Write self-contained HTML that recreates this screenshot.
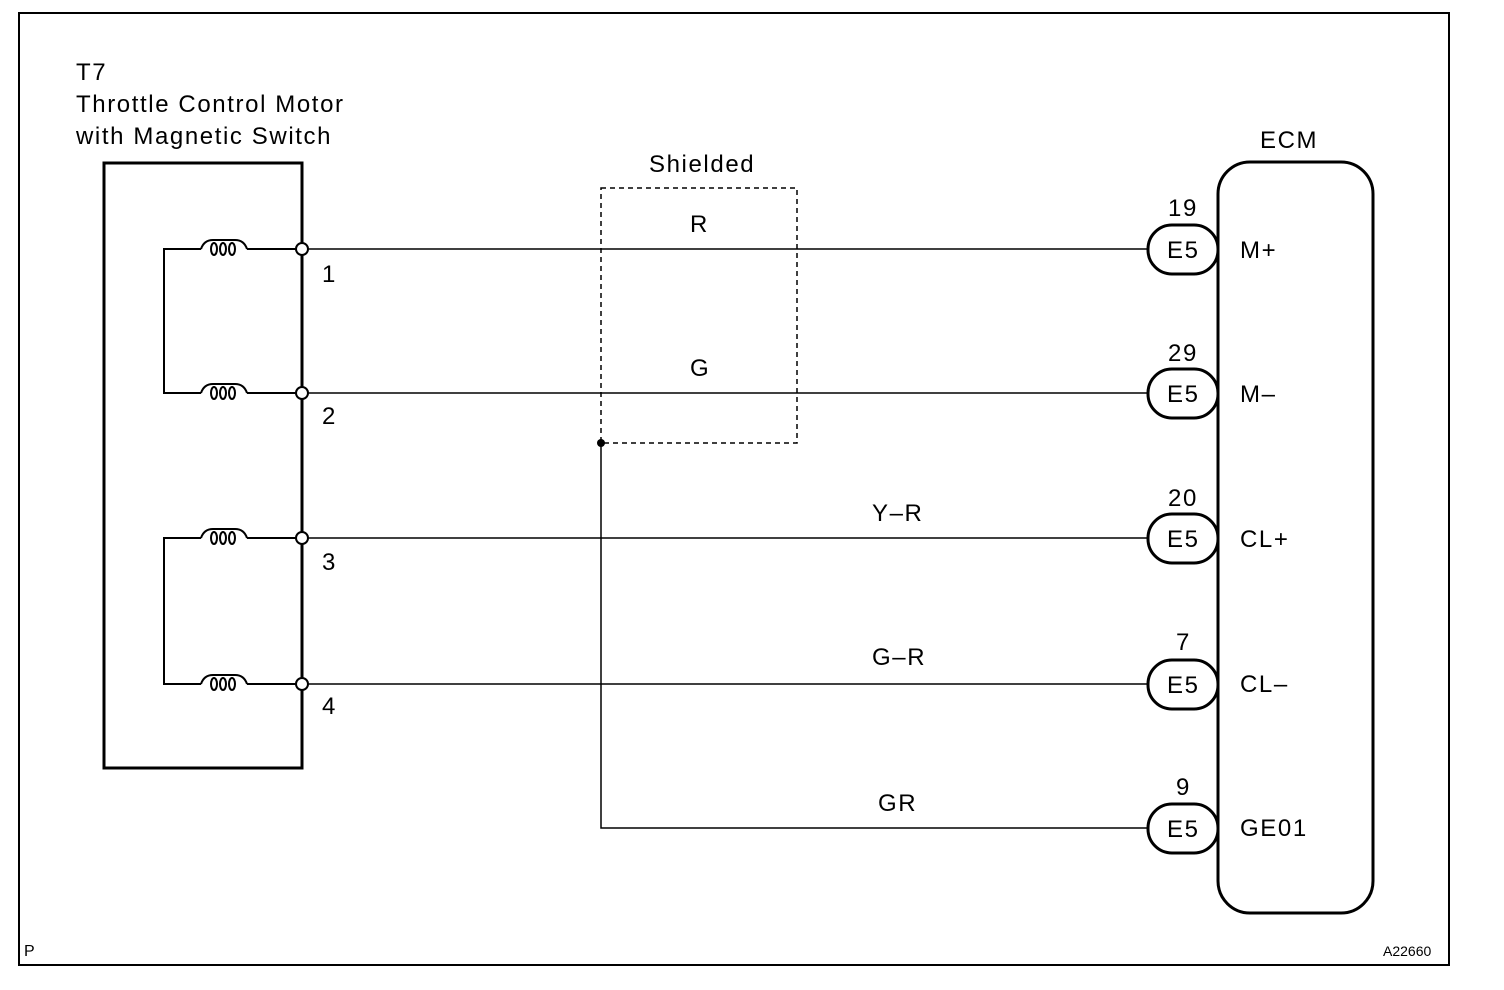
<!DOCTYPE html>
<html><head><meta charset="utf-8"><style>
html,body{margin:0;padding:0;background:#fff;}
svg{display:block;font-family:"Liberation Sans",Arial,sans-serif;}
</style></head><body>
<svg width="1504" height="990" viewBox="0 0 1504 990" xmlns="http://www.w3.org/2000/svg">
<rect x="19" y="13" width="1430" height="952" fill="none" stroke="#000" stroke-width="2"/>
<g font-size="24" fill="#000" letter-spacing="1.6">
<text x="76" y="80">T7</text>
<text x="76" y="112">Throttle Control Motor</text>
<text x="76" y="144">with Magnetic Switch</text>
<text x="649" y="172">Shielded</text>
<text x="1260" y="148">ECM</text>
<text x="690" y="232">R</text>
<text x="690" y="376">G</text>
<text x="872" y="521">Y–R</text>
<text x="872" y="665">G–R</text>
<text x="878" y="811">GR</text>
<text x="322" y="282">1</text>
<text x="322" y="424">2</text>
<text x="322" y="570">3</text>
<text x="322" y="714">4</text>
<text x="1168" y="216">19</text>
<text x="1168" y="361">29</text>
<text x="1168" y="506">20</text>
<text x="1176" y="650">7</text>
<text x="1176" y="795">9</text>
<text x="1240" y="258">M+</text>
<text x="1240" y="402">M–</text>
<text x="1240" y="547">CL+</text>
<text x="1240" y="692">CL–</text>
<text x="1240" y="836">GE01</text>
</g>
<text x="24" y="956" font-size="16">P</text>
<text x="1383" y="956" font-size="14">A22660</text>
<path d="M302 163 H104 V768 H302 Z" fill="none" stroke="#000" stroke-width="3"/>
<g fill="none" stroke="#000" stroke-width="2">
<path d="M302 249 H247 M201 249 H164 V393 H201 M247 393 H302"/>
<path d="M302 538 H247 M201 538 H164 V684 H201 M247 684 H302"/>
<path d="M201 249 q3 -9 12 -9 h22 q9 0 12 9"/><path d="M201 393 q3 -9 12 -9 h22 q9 0 12 9"/>
<path d="M201 538 q3 -9 12 -9 h22 q9 0 12 9"/><path d="M201 684 q3 -9 12 -9 h22 q9 0 12 9"/>
<ellipse cx="214" cy="249" rx="3" ry="6"/><ellipse cx="223" cy="249" rx="3" ry="6"/><ellipse cx="232" cy="249" rx="3" ry="6"/>
<ellipse cx="214" cy="393" rx="3" ry="6"/><ellipse cx="223" cy="393" rx="3" ry="6"/><ellipse cx="232" cy="393" rx="3" ry="6"/>
<ellipse cx="214" cy="538" rx="3" ry="6"/><ellipse cx="223" cy="538" rx="3" ry="6"/><ellipse cx="232" cy="538" rx="3" ry="6"/>
<ellipse cx="214" cy="684" rx="3" ry="6"/><ellipse cx="223" cy="684" rx="3" ry="6"/><ellipse cx="232" cy="684" rx="3" ry="6"/>
</g>
<g stroke="#000" stroke-width="1.5" fill="none">
<path d="M302 249 H1148 M302 393 H1148 M302 538 H1148 M302 684 H1148"/>
<path d="M601 443 V828 H1148"/>
</g>
<rect x="601" y="188" width="196" height="255" fill="none" stroke="#000" stroke-width="1.5" stroke-dasharray="5,4"/>
<circle cx="601" cy="443" r="4" fill="#000"/>
<g fill="#fff" stroke="#000" stroke-width="2">
<circle cx="302" cy="249" r="6"/><circle cx="302" cy="393" r="6"/><circle cx="302" cy="538" r="6"/><circle cx="302" cy="684" r="6"/>
</g>
<rect x="1218" y="162" width="155" height="751" rx="32" fill="none" stroke="#000" stroke-width="3"/>
<g fill="#fff" stroke="#000" stroke-width="3">
<rect x="1148" y="225" width="70" height="49" rx="24"/>
<rect x="1148" y="369" width="70" height="49" rx="24"/>
<rect x="1148" y="514" width="70" height="49" rx="24"/>
<rect x="1148" y="660" width="70" height="49" rx="24"/>
<rect x="1148" y="804" width="70" height="49" rx="24"/>
</g>
<g font-size="24" letter-spacing="1.6">
<text x="1167" y="258">E5</text><text x="1167" y="402">E5</text><text x="1167" y="547">E5</text><text x="1167" y="693">E5</text><text x="1167" y="837">E5</text>
</g>
</svg>
</body></html>
